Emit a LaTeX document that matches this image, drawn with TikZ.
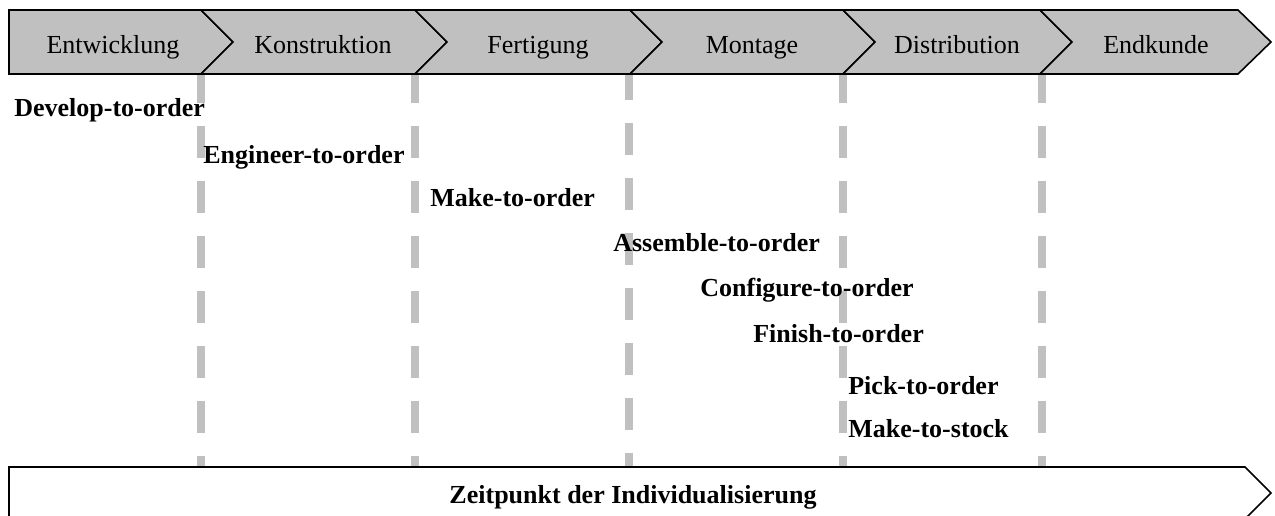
\documentclass[tikz,border=0pt]{standalone}
\usepackage{fontspec}
\setmainfont{Liberation Serif}
\definecolor{chevgray}{RGB}{192,192,192}
\definecolor{sepgray}{RGB}{192,192,192}
\begin{document}
\begin{tikzpicture}[x=0.02cm,y=-0.02cm,
  phase/.style={draw=black,fill=chevgray,line width=0.9pt,line join=miter},
  timeline/.style={draw=black,fill=white,line width=0.9pt,line join=miter},
  stagelabel/.style={font=\fontsize{14.8}{17}\selectfont,inner sep=0pt,anchor=base},
  strategy/.style={font=\fontsize{14.8}{17}\selectfont\bfseries,inner sep=0pt,anchor=base west},
  separator/.style={draw=sepgray,line width=4.5pt,dash pattern=on 0.64cm off 0.46cm}]
\useasboundingbox (0,0) rectangle (1275,515);

% dashed separators between the value-chain stages
\coordinate (s1t) at (201,71);  \coordinate (s1b) at (201,467);
\coordinate (s2t) at (415,71);  \coordinate (s2b) at (415,467);
\coordinate (s3t) at (629,68);  \coordinate (s3b) at (629,467);
\coordinate (s4t) at (843,71);  \coordinate (s4b) at (843,467);
\coordinate (s5t) at (1042,71); \coordinate (s5b) at (1042,467);
\foreach \s in {1,...,5} \draw[separator] (s\s t) -- (s\s b);

% value chain (chevrons)
\path[phase] (9,10) -- (201,10) -- (233,42) -- (201,74) -- (9,74) -- cycle;
\path[phase] (201,10) -- (415,10) -- (447,42) -- (415,74) -- (201,74) -- (233,42) -- cycle;
\path[phase] (415,10) -- (630,10) -- (662,42) -- (630,74) -- (415,74) -- (447,42) -- cycle;
\path[phase] (630,10) -- (843,10) -- (875,42) -- (843,74) -- (630,74) -- (662,42) -- cycle;
\path[phase] (843,10) -- (1040,10) -- (1072,42) -- (1040,74) -- (843,74) -- (875,42) -- cycle;
\path[phase] (1040,10) -- (1238,10) -- (1271,42) -- (1238,74) -- (1040,74) -- (1072,42) -- cycle;

\node[stagelabel] (st1) at (113,53) {Entwicklung};
\node[stagelabel] (st2) at (323,53) {Konstruktion};
\node[stagelabel] (st3) at (538,53) {Fertigung};
\node[stagelabel] (st4) at (752,53) {Montage};
\node[stagelabel] (st5) at (957,53) {Distribution};
\node[stagelabel] (st6) at (1156,53) {Endkunde};

% timeline arrow
\path[timeline] (9,467) -- (1245,467) -- (1271,493) -- (1245,519) -- (9,519) -- cycle;
\node[strategy,anchor=base] (zeit) at (633,503) {Zeitpunkt der Individualisierung};

% order strategies
\node[strategy] (dto) at (14,116)  {Develop-to-order};
\node[strategy] (eto) at (203,163) {Engineer-to-order};
\node[strategy] (mto) at (430,206) {Make-to-order};
\node[strategy] (ato) at (613,251) {Assemble-to-order};
\node[strategy] (cto) at (700,296) {Configure-to-order};
\node[strategy] (fto) at (753,342) {Finish-to-order};
\node[strategy] (pto) at (848,394) {Pick-to-order};
\node[strategy] (mts) at (848,437) {Make-to-stock};
\end{tikzpicture}
\end{document}
